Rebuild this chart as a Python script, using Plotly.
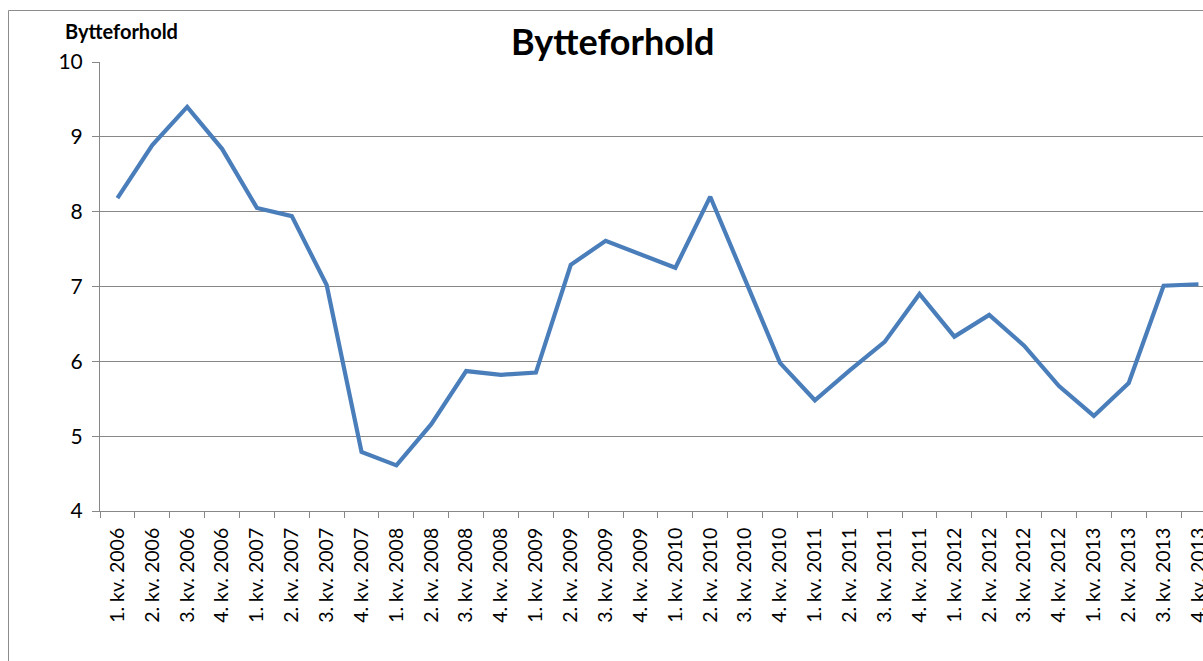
import plotly.graph_objects as go

categories = [
    "1. kv. 2006", "2. kv. 2006", "3. kv. 2006", "4. kv. 2006",
    "1. kv. 2007", "2. kv. 2007", "3. kv. 2007", "4. kv. 2007",
    "1. kv. 2008", "2. kv. 2008", "3. kv. 2008", "4. kv. 2008",
    "1. kv. 2009", "2. kv. 2009", "3. kv. 2009", "4. kv. 2009",
    "1. kv. 2010", "2. kv. 2010", "3. kv. 2010", "4. kv. 2010",
    "1. kv. 2011", "2. kv. 2011", "3. kv. 2011", "4. kv. 2011",
    "1. kv. 2012", "2. kv. 2012", "3. kv. 2012", "4. kv. 2012",
    "1. kv. 2013", "2. kv. 2013", "3. kv. 2013", "4. kv. 2013",
]
values = [
    8.18, 8.89, 9.40, 8.84,
    8.05, 7.94, 7.02, 4.79,
    4.61, 5.16, 5.87, 5.82,
    5.85, 7.29, 7.61, 7.43,
    7.25, 8.20, 7.09, 5.98,
    5.48, 5.88, 6.26, 6.90,
    6.33, 6.62, 6.21, 5.67,
    5.27, 5.71, 7.01, 7.03,
]
y_ticks = [4, 5, 6, 7, 8, 9, 10]

W, H = 1203, 661
L, R, T = 100, 0, 62
B = H - 511
pw = W - L - R
ph = H - T - B

def px(x):
    return (x - L) / pw

def py(y):
    return (H - B - y) / ph

FONT = "Lato, Carlito, Calibri, sans-serif"
GRID = "#878787"

fig = go.Figure()
fig.add_trace(go.Scatter(
    x=categories, y=values, mode="lines",
    line=dict(color="#4A7EBB", width=4.2),
    showlegend=False, hoverinfo="x+y",
))

fig.update_layout(
    width=W, height=H,
    margin=dict(l=L, r=R, t=T, b=B, pad=0, autoexpand=False),
    paper_bgcolor="white", plot_bgcolor="white",
    font=dict(family=FONT, color="black", size=19),
    xaxis=dict(
        type="category", range=[-0.5, 31.13], automargin=False,
        showgrid=False, showline=True, linecolor=GRID, linewidth=1,
        ticks="outside", ticklen=6, tickcolor=GRID, tickson="boundaries",
        tickangle=-90, tickfont=dict(size=19.5, family=FONT),
        ticklabelstandoff=8,
        zeroline=False, fixedrange=True,
    ),
    yaxis=dict(
        range=[4, 10], tickvals=y_ticks, automargin=False,
        showgrid=True, gridcolor=GRID, gridwidth=1,
        showline=True, linecolor=GRID, linewidth=1,
        ticks="outside", ticklen=7, tickcolor=GRID,
        tickfont=dict(size=21, family=FONT), ticklabelstandoff=5,
        zeroline=False, fixedrange=True,
    ),
    shapes=[dict(
        type="rect", xref="paper", yref="paper",
        x0=px(8.5), x1=px(1250), y0=py(700), y1=py(10.5),
        line=dict(color="#8c8c8c", width=1), fillcolor="rgba(0,0,0,0)",
        layer="below",
    )],
    annotations=[
        dict(text="<b>Bytteforhold</b>", xref="paper", yref="paper",
             x=px(612), y=py(41), xanchor="center", yanchor="middle",
             showarrow=False, font=dict(size=36, family=FONT, color="black")),
        dict(text="<b>Bytteforhold</b>", xref="paper", yref="paper",
             x=px(121), y=py(31), xanchor="center", yanchor="middle",
             showarrow=False, font=dict(size=20, family=FONT, color="black")),
    ],
)

page_css = (
    "document.documentElement.style.margin='0';"
    "document.documentElement.style.overflow='hidden';"
    "document.body.style.margin='0';"
    "document.body.style.overflow='hidden';"
)

fig.write_html("out.html", config={"displayModeBar": False}, post_script=page_css)
